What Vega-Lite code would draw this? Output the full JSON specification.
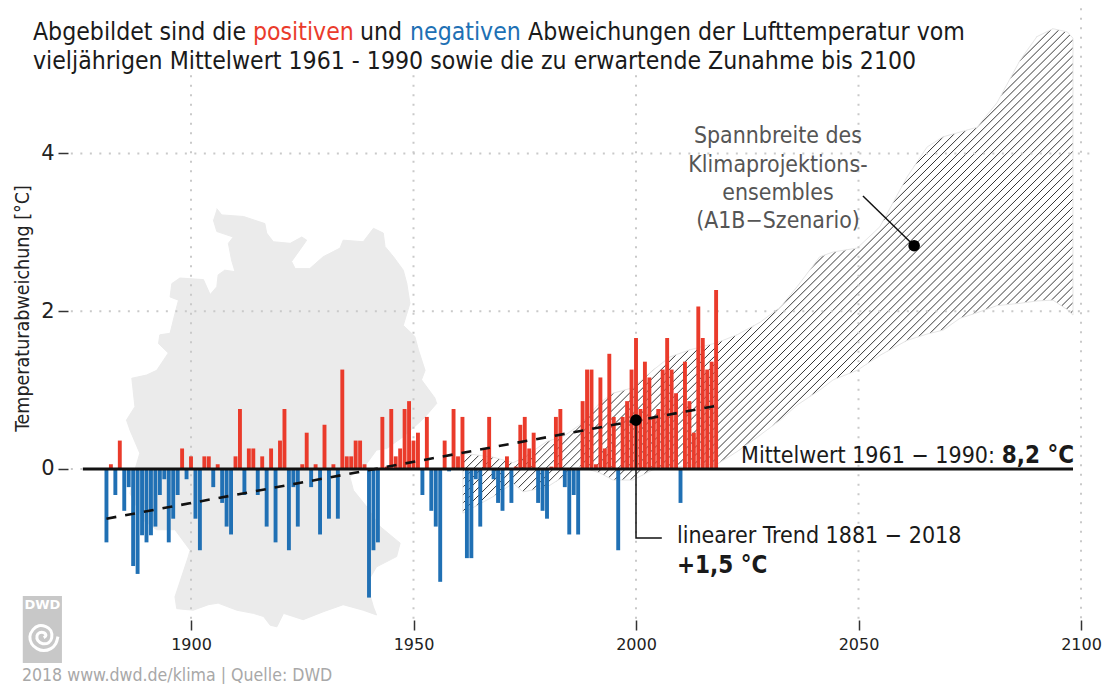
{
"$schema":"https://vega.github.io/schema/vega-lite/v6.json",
"width":1037,"height":620,
"padding":{"left":68,"top":0,"right":0,"bottom":64},
"autosize":{"type":"none"},
"background":"white",
"config":{"view":{"stroke":null},"font":"DejaVu Sans Condensed"},
"datasets":{
"bars":[
{"year":1881,"value":-0.93},{"year":1882,"value":0.06},{"year":1883,"value":-0.33},{"year":1884,"value":0.36},{"year":1885,"value":-0.53},{"year":1886,"value":-0.23},{"year":1887,"value":-1.23},{"year":1888,"value":-1.33},{"year":1889,"value":-0.84},{"year":1890,"value":-0.93},
{"year":1891,"value":-0.84},{"year":1892,"value":-0.73},{"year":1893,"value":-0.33},{"year":1894,"value":-0.13},{"year":1895,"value":-0.93},{"year":1896,"value":-0.63},{"year":1897,"value":-0.33},{"year":1898,"value":0.26},{"year":1899,"value":-0.13},{"year":1900,"value":0.16},
{"year":1901,"value":-0.63},{"year":1902,"value":-1.03},{"year":1903,"value":0.16},{"year":1904,"value":0.16},{"year":1905,"value":-0.23},{"year":1906,"value":0.06},{"year":1907,"value":-0.43},{"year":1908,"value":-0.73},{"year":1909,"value":-0.83},{"year":1910,"value":0.16},
{"year":1911,"value":0.76},{"year":1912,"value":-0.33},{"year":1913,"value":0.26},{"year":1914,"value":0.26},{"year":1915,"value":-0.33},{"year":1916,"value":0.16},{"year":1917,"value":-0.73},{"year":1918,"value":0.26},{"year":1919,"value":-0.93},{"year":1920,"value":0.36},
{"year":1921,"value":0.76},{"year":1922,"value":-1.03},{"year":1923,"value":-0.23},{"year":1924,"value":-0.73},{"year":1925,"value":0.06},{"year":1926,"value":0.46},{"year":1927,"value":-0.23},{"year":1928,"value":0.06},{"year":1929,"value":-0.83},{"year":1930,"value":0.56},
{"year":1931,"value":-0.63},{"year":1932,"value":0.06},{"year":1933,"value":-0.63},{"year":1934,"value":1.26},{"year":1935,"value":0.16},{"year":1936,"value":0.16},{"year":1937,"value":0.36},{"year":1938,"value":0.36},{"year":1939,"value":0.06},{"year":1940,"value":-1.63},
{"year":1941,"value":-1.03},{"year":1942,"value":-0.93},{"year":1943,"value":0.66},{"year":1944,"value":0.03},{"year":1945,"value":0.76},{"year":1946,"value":0.16},{"year":1947,"value":0.26},{"year":1948,"value":0.76},{"year":1949,"value":0.86},{"year":1950,"value":0.36},
{"year":1951,"value":0.46},{"year":1952,"value":-0.33},{"year":1953,"value":0.66},{"year":1954,"value":-0.53},{"year":1955,"value":-0.73},{"year":1956,"value":-1.43},{"year":1957,"value":0.36},{"year":1958,"value":-0.03},{"year":1959,"value":0.76},{"year":1960,"value":0.16},
{"year":1961,"value":0.66},{"year":1962,"value":-1.13},{"year":1963,"value":-1.13},{"year":1964,"value":-0.13},{"year":1965,"value":-0.73},{"year":1966,"value":0.26},{"year":1967,"value":0.66},{"year":1968,"value":-0.13},{"year":1969,"value":-0.43},{"year":1970,"value":-0.53},
{"year":1971,"value":0.16},{"year":1972,"value":-0.43},{"year":1973,"value":0.03},{"year":1974,"value":0.56},{"year":1975,"value":0.66},{"year":1976,"value":0.26},{"year":1977,"value":0.46},{"year":1978,"value":-0.43},{"year":1979,"value":-0.53},{"year":1980,"value":-0.63},
{"year":1981,"value":0.03},{"year":1982,"value":0.66},{"year":1983,"value":0.76},{"year":1984,"value":-0.23},{"year":1985,"value":-0.83},{"year":1986,"value":-0.33},{"year":1987,"value":-0.83},{"year":1988,"value":0.86},{"year":1989,"value":1.26},{"year":1990,"value":1.26},
{"year":1991,"value":0.06},{"year":1992,"value":1.16},{"year":1993,"value":0.26},{"year":1994,"value":1.46},{"year":1995,"value":0.66},{"year":1996,"value":-1.03},{"year":1997,"value":0.66},{"year":1998,"value":0.86},{"year":1999,"value":1.26},{"year":2000,"value":1.66},
{"year":2001,"value":0.76},{"year":2002,"value":1.36},{"year":2003,"value":1.16},{"year":2004,"value":0.66},{"year":2005,"value":0.76},{"year":2006,"value":1.26},{"year":2007,"value":1.66},{"year":2008,"value":1.26},{"year":2009,"value":0.96},{"year":2010,"value":-0.43},
{"year":2011,"value":1.36},{"year":2012,"value":0.86},{"year":2013,"value":0.46},{"year":2014,"value":2.06},{"year":2015,"value":1.66},{"year":2016,"value":1.26},{"year":2017,"value":1.36},{"year":2018,"value":2.27}
],
"ensemble":[
{"year":1961.1,"value":0.2,"value2":-0.56},{"year":1967.9,"value":0.15,"value2":-0.35},{"year":1972.4,"value":0.08,"value2":-0.18},{"year":1974.6,"value":0.14,"value2":-0.29},{"year":1980,"value":0.35,"value2":-0.23},{"year":1983.6,"value":0.41,"value2":-0.1},{"year":1987.4,"value":0.56,"value2":0.03},{"year":1991.9,"value":0.84,"value2":-0.05},{"year":1994.8,"value":0.96,"value2":-0.14},{"year":1999.3,"value":1.03,"value2":-0.14},{"year":2003.8,"value":1.25,"value2":-0.01},{"year":2007.6,"value":1.42,"value2":0.01},{"year":2012.1,"value":1.51,"value2":0.05},{"year":2018.2,"value":1.6,"value2":0.06},{"year":2022.7,"value":1.7,"value2":0.22},{"year":2027.9,"value":1.86,"value2":0.43},{"year":2032.4,"value":2.05,"value2":0.62},{"year":2036.2,"value":2.31,"value2":0.81},{"year":2041.3,"value":2.69,"value2":1.0},{"year":2044.3,"value":2.75,"value2":1.13},{"year":2049.7,"value":2.8,"value2":1.25},{"year":2054.8,"value":3.07,"value2":1.44},{"year":2060.9,"value":3.7,"value2":1.63},{"year":2065.4,"value":4.08,"value2":1.71},{"year":2069,"value":4.21,"value2":1.76},{"year":2072.8,"value":4.27,"value2":1.91},{"year":2076.6,"value":4.33,"value2":1.98},{"year":2081.1,"value":4.64,"value2":2.07},{"year":2086.3,"value":5.18,"value2":2.1},{"year":2090.1,"value":5.48,"value2":2.13},{"year":2093.7,"value":5.58,"value2":2.14},{"year":2096.9,"value":5.54,"value2":2.02},{"year":2098.2,"value":5.46,"value2":1.95}
],
"map":[
{"k":1,"year":1905.8,"value":3.3},{"k":2,"year":1906.9,"value":3.22},{"k":3,"year":1911.8,"value":3.2},{"k":4,"year":1916.6,"value":3.11},{"k":5,"year":1917,"value":2.99},{"k":6,"year":1918.5,"value":2.88},{"k":7,"year":1922.3,"value":2.86},{"k":8,"year":1924.9,"value":2.94},{"k":9,"year":1926,"value":2.9},{"k":10,"year":1924.5,"value":2.78},{"k":11,"year":1922.6,"value":2.63},{"k":12,"year":1923.4,"value":2.54},{"k":13,"year":1926.7,"value":2.54},{"k":14,"year":1929.7,"value":2.69},{"k":15,"year":1933.5,"value":2.8},{"k":16,"year":1934.2,"value":2.9},{"k":17,"year":1938.7,"value":2.88},{"k":18,"year":1941,"value":3.05},{"k":19,"year":1943.2,"value":2.99},{"k":20,"year":1943.6,"value":2.82},{"k":21,"year":1945.5,"value":2.69},{"k":22,"year":1947.7,"value":2.52},{"k":23,"year":1948.5,"value":2.35},{"k":24,"year":1949.2,"value":2.1},{"k":25,"year":1947.7,"value":1.82},{"k":26,"year":1950.3,"value":1.68},{"k":27,"year":1951.1,"value":1.51},{"k":28,"year":1952.6,"value":1.25},{"k":29,"year":1951.8,"value":1.13},{"k":30,"year":1954.8,"value":0.9},{"k":31,"year":1955.2,"value":0.83},{"k":32,"year":1952.6,"value":0.66},
{"k":33,"year":1951.5,"value":0.6},{"k":34,"year":1947.7,"value":0.41},{"k":35,"year":1944,"value":0.26},{"k":36,"year":1941.7,"value":0.24},{"k":37,"year":1939.5,"value":0.07},{"k":38,"year":1935.7,"value":-0.1},{"k":39,"year":1936.5,"value":-0.27},{"k":40,"year":1939.5,"value":-0.48},{"k":41,"year":1942.5,"value":-0.73},{"k":42,"year":1947,"value":-0.94},{"k":43,"year":1946.2,"value":-1.11},{"k":44,"year":1941.7,"value":-1.24},{"k":45,"year":1939.5,"value":-1.45},{"k":46,"year":1941,"value":-1.75},{"k":47,"year":1941.7,"value":-1.85},{"k":48,"year":1938.7,"value":-1.79},{"k":49,"year":1934.2,"value":-1.72},{"k":50,"year":1929.7,"value":-1.81},{"k":51,"year":1925.2,"value":-1.91},{"k":52,"year":1920.8,"value":-1.83},{"k":53,"year":1919.3,"value":-2.0},{"k":54,"year":1917.8,"value":-1.98},{"k":55,"year":1916.3,"value":-1.87},{"k":56,"year":1914,"value":-1.83},{"k":57,"year":1910.3,"value":-1.79},{"k":58,"year":1906.1,"value":-1.7},{"k":59,"year":1903.9,"value":-1.72},{"k":60,"year":1900.5,"value":-1.79},{"k":61,"year":1896.8,"value":-1.77},{"k":62,"year":1896.4,"value":-1.62},{"k":63,"year":1899.4,"value":-1.11},{"k":64,"year":1899.8,"value":-1.03},{"k":65,"year":1896.4,"value":-0.77},{"k":66,"year":1892.3,"value":-0.77},{"k":67,"year":1889.3,"value":-0.65},{"k":68,"year":1886.3,"value":-0.31},{"k":69,"year":1887.4,"value":-0.01},{"k":70,"year":1888.5,"value":0.2},{"k":71,"year":1886.3,"value":0.49},{"k":72,"year":1885.5,"value":0.62},
{"k":73,"year":1887.4,"value":0.79},{"k":74,"year":1886.7,"value":1.15},{"k":75,"year":1890,"value":1.19},{"k":76,"year":1892.3,"value":1.25},{"k":77,"year":1894.9,"value":1.47},{"k":78,"year":1892.7,"value":1.59},{"k":79,"year":1893,"value":1.7},{"k":80,"year":1895.3,"value":1.72},{"k":81,"year":1896.4,"value":1.97},{"k":82,"year":1897.2,"value":2.14},{"k":83,"year":1895.3,"value":2.18},{"k":84,"year":1895.7,"value":2.35},{"k":85,"year":1897.5,"value":2.42},{"k":86,"year":1902.8,"value":2.4},{"k":87,"year":1904.3,"value":2.21},{"k":88,"year":1905.8,"value":2.31},{"k":89,"year":1906.1,"value":2.46},{"k":90,"year":1907.6,"value":2.52},{"k":91,"year":1909.9,"value":2.5},{"k":92,"year":1909.1,"value":2.65},{"k":93,"year":1908.4,"value":2.86},{"k":94,"year":1909.5,"value":2.94},{"k":95,"year":1905.8,"value":3.01},{"k":96,"year":1905,"value":3.16}
],
"spiral":[
{"k":1,"year":1866.9,"value":-2.138},{"k":2,"year":1867.4,"value":-2.112},{"k":3,"year":1866.9,"value":-2.074},{"k":4,"year":1866.0,"value":-2.074},{"k":5,"year":1865.4,"value":-2.112},{"k":6,"year":1865.6,"value":-2.176},{"k":7,"year":1866.7,"value":-2.214},{"k":8,"year":1868.0,"value":-2.201},{"k":9,"year":1868.7,"value":-2.138},{"k":10,"year":1868.5,"value":-2.049},{"k":11,"year":1867.4,"value":-1.998},{"k":12,"year":1865.8,"value":-1.986},{"k":13,"year":1864.5,"value":-2.036},{"k":14,"year":1863.8,"value":-2.125},{"k":15,"year":1864.2,"value":-2.214},{"k":16,"year":1865.4,"value":-2.277},{"k":17,"year":1866.9,"value":-2.302},{"k":18,"year":1868.5,"value":-2.277},{"k":19,"year":1869.6,"value":-2.214},{"k":20,"year":1870.1,"value":-2.125}
]
},
"data":{"name":"bars"},
"encoding":{
"x":{"field":"year","type":"quantitative","scale":{"domain":[1872.36,2105.39],"nice":false,"zero":false,"padding":0},
"axis":{"values":[1900,1950,2000,2050,2100],"format":"d","title":null,"grid":false,"domain":false,"tickSize":10,"tickWidth":1.5,"tickColor":"#333333","labelFontSize":16,"labelColor":"#222222","labelPadding":6,"labelFont":"DejaVu Sans"}},
"y":{"field":"value","type":"quantitative","scale":{"domain":[-1.914,5.944],"nice":false,"zero":false,"padding":0},
"axis":{"values":[0,2,4],"format":"d","title":"Temperaturabweichung [°C]","grid":false,"domain":false,"tickSize":10,"tickWidth":1.5,"tickColor":"#333333","labelFontSize":21,"labelColor":"#222222","labelPadding":4,"labelFont":"DejaVu Sans","titleFont":"DejaVu Sans Condensed","titleFontSize":19.5,"titleFontWeight":"normal","titleColor":"#222222","titleX":-46,"titleY":308,"titleAlign":"center","titleBaseline":"middle"}}
},
"layer":[
{"data":{"name":"map"},"mark":{"type":"line","fill":"#ebebeb","stroke":"#ebebeb","strokeWidth":1},"encoding":{"order":{"field":"k","type":"quantitative"}}},
{"data":{"name":"ensemble"},"mark":{"type":"area","stroke":"#e6e6e6","strokeWidth":1,"color":{"gradient":"linear","x1":0,"y1":0,"x2":1.0983,"y2":0.8769,"stops":[
{"offset":0,"color":"#33333300"},
{"offset":0.39,"color":"#33333300"},{"offset":0.3909,"color":"#333333ff"},{"offset":0.3918,"color":"#33333300"},
{"offset":0.3973,"color":"#33333300"},{"offset":0.3982,"color":"#333333ff"},{"offset":0.3991,"color":"#33333300"},
{"offset":0.4046,"color":"#33333300"},{"offset":0.4055,"color":"#333333ff"},{"offset":0.4064,"color":"#33333300"},
{"offset":0.4119,"color":"#33333300"},{"offset":0.4128,"color":"#333333ff"},{"offset":0.4137,"color":"#33333300"},
{"offset":0.4192,"color":"#33333300"},{"offset":0.4201,"color":"#333333ff"},{"offset":0.421,"color":"#33333300"},
{"offset":0.4265,"color":"#33333300"},{"offset":0.4274,"color":"#333333ff"},{"offset":0.4283,"color":"#33333300"},
{"offset":0.4338,"color":"#33333300"},{"offset":0.4347,"color":"#333333ff"},{"offset":0.4356,"color":"#33333300"},
{"offset":0.4411,"color":"#33333300"},{"offset":0.442,"color":"#333333ff"},{"offset":0.4429,"color":"#33333300"},
{"offset":0.4484,"color":"#33333300"},{"offset":0.4493,"color":"#333333ff"},{"offset":0.4502,"color":"#33333300"},
{"offset":0.4557,"color":"#33333300"},{"offset":0.4566,"color":"#333333ff"},{"offset":0.4575,"color":"#33333300"},
{"offset":0.463,"color":"#33333300"},{"offset":0.4639,"color":"#333333ff"},{"offset":0.4648,"color":"#33333300"},
{"offset":0.4703,"color":"#33333300"},{"offset":0.4712,"color":"#333333ff"},{"offset":0.4721,"color":"#33333300"},
{"offset":0.4776,"color":"#33333300"},{"offset":0.4785,"color":"#333333ff"},{"offset":0.4794,"color":"#33333300"},
{"offset":0.4849,"color":"#33333300"},{"offset":0.4858,"color":"#333333ff"},{"offset":0.4867,"color":"#33333300"},
{"offset":0.4922,"color":"#33333300"},{"offset":0.4931,"color":"#333333ff"},{"offset":0.494,"color":"#33333300"},
{"offset":0.4995,"color":"#33333300"},{"offset":0.5004,"color":"#333333ff"},{"offset":0.5013,"color":"#33333300"},
{"offset":0.5068,"color":"#33333300"},{"offset":0.5077,"color":"#333333ff"},{"offset":0.5086,"color":"#33333300"},
{"offset":0.5141,"color":"#33333300"},{"offset":0.515,"color":"#333333ff"},{"offset":0.5159,"color":"#33333300"},
{"offset":0.5214,"color":"#33333300"},{"offset":0.5223,"color":"#333333ff"},{"offset":0.5232,"color":"#33333300"},
{"offset":0.5287,"color":"#33333300"},{"offset":0.5296,"color":"#333333ff"},{"offset":0.5305,"color":"#33333300"},
{"offset":0.536,"color":"#33333300"},{"offset":0.5369,"color":"#333333ff"},{"offset":0.5378,"color":"#33333300"},
{"offset":0.5433,"color":"#33333300"},{"offset":0.5442,"color":"#333333ff"},{"offset":0.5451,"color":"#33333300"},
{"offset":0.5506,"color":"#33333300"},{"offset":0.5515,"color":"#333333ff"},{"offset":0.5524,"color":"#33333300"},
{"offset":0.5579,"color":"#33333300"},{"offset":0.5588,"color":"#333333ff"},{"offset":0.5597,"color":"#33333300"},
{"offset":0.5652,"color":"#33333300"},{"offset":0.5661,"color":"#333333ff"},{"offset":0.567,"color":"#33333300"},
{"offset":0.5725,"color":"#33333300"},{"offset":0.5734,"color":"#333333ff"},{"offset":0.5743,"color":"#33333300"},
{"offset":0.5798,"color":"#33333300"},{"offset":0.5807,"color":"#333333ff"},{"offset":0.5816,"color":"#33333300"},
{"offset":0.5871,"color":"#33333300"},{"offset":0.588,"color":"#333333ff"},{"offset":0.5889,"color":"#33333300"},
{"offset":0.5944,"color":"#33333300"},{"offset":0.5953,"color":"#333333ff"},{"offset":0.5962,"color":"#33333300"},
{"offset":0.6017,"color":"#33333300"},{"offset":0.6026,"color":"#333333ff"},{"offset":0.6035,"color":"#33333300"},
{"offset":0.609,"color":"#33333300"},{"offset":0.6099,"color":"#333333ff"},{"offset":0.6108,"color":"#33333300"},
{"offset":0.6163,"color":"#33333300"},{"offset":0.6172,"color":"#333333ff"},{"offset":0.6181,"color":"#33333300"},
{"offset":0.6236,"color":"#33333300"},{"offset":0.6245,"color":"#333333ff"},{"offset":0.6254,"color":"#33333300"},
{"offset":0.6309,"color":"#33333300"},{"offset":0.6318,"color":"#333333ff"},{"offset":0.6327,"color":"#33333300"},
{"offset":0.6382,"color":"#33333300"},{"offset":0.6391,"color":"#333333ff"},{"offset":0.64,"color":"#33333300"},
{"offset":0.6455,"color":"#33333300"},{"offset":0.6464,"color":"#333333ff"},{"offset":0.6473,"color":"#33333300"},
{"offset":0.6528,"color":"#33333300"},{"offset":0.6537,"color":"#333333ff"},{"offset":0.6546,"color":"#33333300"},
{"offset":0.6601,"color":"#33333300"},{"offset":0.661,"color":"#333333ff"},{"offset":0.6619,"color":"#33333300"},
{"offset":0.6674,"color":"#33333300"},{"offset":0.6683,"color":"#333333ff"},{"offset":0.6692,"color":"#33333300"},
{"offset":0.6747,"color":"#33333300"},{"offset":0.6756,"color":"#333333ff"},{"offset":0.6765,"color":"#33333300"},
{"offset":0.682,"color":"#33333300"},{"offset":0.6829,"color":"#333333ff"},{"offset":0.6838,"color":"#33333300"},
{"offset":0.6893,"color":"#33333300"},{"offset":0.6902,"color":"#333333ff"},{"offset":0.6911,"color":"#33333300"},
{"offset":0.6966,"color":"#33333300"},{"offset":0.6975,"color":"#333333ff"},{"offset":0.6984,"color":"#33333300"},
{"offset":0.7039,"color":"#33333300"},{"offset":0.7048,"color":"#333333ff"},{"offset":0.7057,"color":"#33333300"},
{"offset":0.7112,"color":"#33333300"},{"offset":0.7121,"color":"#333333ff"},{"offset":0.713,"color":"#33333300"},
{"offset":0.7185,"color":"#33333300"},{"offset":0.7194,"color":"#333333ff"},{"offset":0.7203,"color":"#33333300"},
{"offset":0.7258,"color":"#33333300"},{"offset":0.7267,"color":"#333333ff"},{"offset":0.7276,"color":"#33333300"},
{"offset":0.7331,"color":"#33333300"},{"offset":0.734,"color":"#333333ff"},{"offset":0.7349,"color":"#33333300"},
{"offset":0.7404,"color":"#33333300"},{"offset":0.7413,"color":"#333333ff"},{"offset":0.7422,"color":"#33333300"},
{"offset":0.7477,"color":"#33333300"},{"offset":0.7486,"color":"#333333ff"},{"offset":0.7495,"color":"#33333300"},
{"offset":0.755,"color":"#33333300"},{"offset":0.7559,"color":"#333333ff"},{"offset":0.7568,"color":"#33333300"},
{"offset":0.7623,"color":"#33333300"},{"offset":0.7632,"color":"#333333ff"},{"offset":0.7641,"color":"#33333300"},
{"offset":0.7696,"color":"#33333300"},{"offset":0.7705,"color":"#333333ff"},{"offset":0.7714,"color":"#33333300"},
{"offset":0.7769,"color":"#33333300"},{"offset":0.7778,"color":"#333333ff"},{"offset":0.7787,"color":"#33333300"},
{"offset":0.7842,"color":"#33333300"},{"offset":0.7851,"color":"#333333ff"},{"offset":0.786,"color":"#33333300"},
{"offset":0.7915,"color":"#33333300"},{"offset":0.7924,"color":"#333333ff"},{"offset":0.7933,"color":"#33333300"},
{"offset":0.7988,"color":"#33333300"},{"offset":0.7997,"color":"#333333ff"},{"offset":0.8006,"color":"#33333300"},
{"offset":0.8061,"color":"#33333300"},{"offset":0.807,"color":"#333333ff"},{"offset":0.8079,"color":"#33333300"},
{"offset":0.8134,"color":"#33333300"},{"offset":0.8143,"color":"#333333ff"},{"offset":0.8152,"color":"#33333300"},
{"offset":1,"color":"#33333300"}
]}},"encoding":{"y2":{"field":"value2"}}},
{"data":{"values":[
{"year":1900,"year2":1900,"value":4.99,"value2":-1.914},{"year":1950,"year2":1950,"value":4.99,"value2":-1.914},{"year":2000,"year2":2000,"value":4.99,"value2":-1.914},{"year":2050,"year2":2050,"value":4.99,"value2":-1.914},{"year":2100,"year2":2100,"value":5.84,"value2":-1.914},
{"year":1873,"year2":2103,"value":4,"value2":4},{"year":1873,"year2":2103,"value":2,"value2":2},{"year":1873,"year2":1876,"value":0,"value2":0}
]},"mark":{"type":"rule","color":"#c9c9c9","strokeWidth":2,"strokeDash":[2,7.5]},"encoding":{"x2":{"field":"year2"},"y2":{"field":"value2"}}},
{"mark":{"type":"bar","size":3.9},"encoding":{"y2":{"datum":0},"color":{"condition":{"test":"datum.value>=0","value":"#ea3b2b"},"value":"#2070b4"}}},
{"data":{"values":[{"year":1875.7,"value":0},{"year":2098.2,"value":0}]},"mark":{"type":"line","color":"#111111","strokeWidth":3}},
{"data":{"values":[{"year":1881,"value":-0.63},{"year":2018,"value":0.8}]},"mark":{"type":"line","color":"#111111","strokeWidth":2.6,"strokeDash":[10,9]}},
{"data":{"values":[{"k":1,"year":2000,"value":0.62},{"k":2,"year":2000,"value":-0.875},{"k":3,"year":2005.8,"value":-0.875}]},"mark":{"type":"line","color":"#111111","strokeWidth":1.5},"encoding":{"order":{"field":"k","type":"quantitative"}}},
{"data":{"values":[{"k":1,"year":2051,"value":3.46},{"k":2,"year":2062.5,"value":2.83}]},"mark":{"type":"line","color":"#111111","strokeWidth":1.5},"encoding":{"order":{"field":"k","type":"quantitative"}}},
{"data":{"values":[{"year":2000,"value":0.62},{"year":2062.5,"value":2.83}]},"mark":{"type":"point","filled":true,"size":135,"color":"#000000","opacity":1}},
{"data":{"values":[{"year":1862.2,"value":-1.61,"year2":1871,"value2":-2.46}]},"mark":{"type":"rect","color":"#c8c8c8"},"encoding":{"x2":{"field":"year2"},"y2":{"field":"value2"}}},
{"data":{"name":"spiral"},"mark":{"type":"line","color":"#ffffff","strokeWidth":3,"interpolate":"cardinal"},"encoding":{"order":{"field":"k","type":"quantitative"}}},
{"data":{"values":[{"label":"DWD","year":1866.6,"value":-1.774}]},"mark":{"type":"text","align":"center","baseline":"alphabetic","font":"DejaVu Sans","fontWeight":"bold","fontSize":13,"color":"#ffffff"},"encoding":{"text":{"field":"label"}}},
{"data":{"values":[{"label":"2018  www.dwd.de/klima | Quelle: DWD","year":1862,"value":-2.687}]},"mark":{"type":"text","align":"left","baseline":"alphabetic","fontSize":17.6,"color":"#a8a8a8"},"encoding":{"text":{"field":"label"}}},
{"data":{"values":[
{"label":"Abgebildet sind die","year":1864.49,"value":5.437},{"label":"und","year":1937.98,"value":5.437},{"label":"Abweichungen der Lufttemperatur vom","year":1975.73,"value":5.437},
{"label":"vieljährigen Mittelwert 1961 - 1990 sowie die zu erwartende Zunahme bis 2100","year":1864.49,"value":5.07}
]},"mark":{"type":"text","align":"left","baseline":"alphabetic","fontSize":24.6,"color":"#1a1a1a"},"encoding":{"text":{"field":"label"}}},
{"data":{"values":[{"label":"positiven","year":1913.93,"value":5.437}]},"mark":{"type":"text","align":"left","baseline":"alphabetic","fontSize":24.6,"color":"#ea3b2b"},"encoding":{"text":{"field":"label"}}},
{"data":{"values":[{"label":"negativen","year":1949.21,"value":5.437}]},"mark":{"type":"text","align":"left","baseline":"alphabetic","fontSize":24.6,"color":"#2070b4"},"encoding":{"text":{"field":"label"}}},
{"data":{"values":[
{"label":"Spannbreite des","year":2031.9,"value":4.13},{"label":"Klimaprojektions-","year":2031.9,"value":3.76},{"label":"ensembles","year":2031.9,"value":3.41},{"label":"(A1B−Szenario)","year":2031.9,"value":3.05}
]},"mark":{"type":"text","align":"center","baseline":"alphabetic","fontSize":22.9,"color":"#555555"},"encoding":{"text":{"field":"label"}}},
{"data":{"values":[{"label":"Mittelwert 1961 − 1990:","year":2023.6,"value":0.076},{"label":"linearer Trend 1881 − 2018","year":2009.2,"value":-0.94}]},"mark":{"type":"text","align":"left","baseline":"alphabetic","fontSize":23,"color":"#1a1a1a"},"encoding":{"text":{"field":"label"}}},
{"data":{"values":[{"label":"8,2 °C","year":2082.2,"value":0.076},{"label":"+1,5 °C","year":2009.2,"value":-1.32}]},"mark":{"type":"text","align":"left","baseline":"alphabetic","fontSize":24,"fontWeight":"bold","color":"#1a1a1a"},"encoding":{"text":{"field":"label"}}}
]
}
